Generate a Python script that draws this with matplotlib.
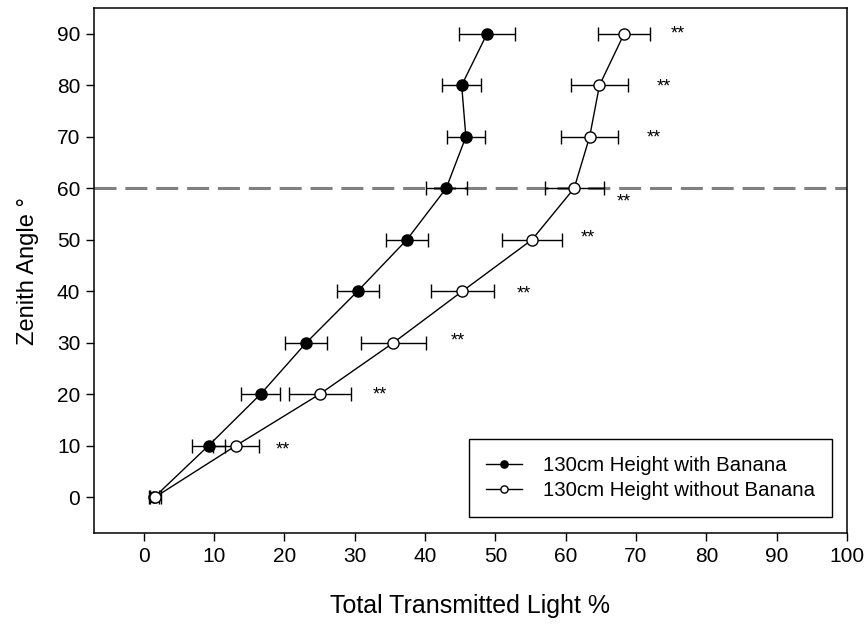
import matplotlib
matplotlib.use("Agg")
import matplotlib.pyplot as plt

plt.rcParams['font.family'] = ['Liberation Sans', 'DejaVu Sans']

# zenith angle (deg)
angles = [0, 10, 20, 30, 40, 50, 60, 70, 80, 90]

# 130cm height with banana (filled)
with_mean = [1.5, 9.2, 16.6, 23.1, 30.4, 37.4, 43.0, 45.8, 45.2, 48.8]
with_err = [0.6, 2.4, 2.8, 3.0, 3.0, 3.0, 2.9, 2.7, 2.8, 4.0]

# 130cm height without banana (open)
without_mean = [1.6, 13.1, 25.0, 35.5, 45.3, 55.2, 61.2, 63.4, 64.8, 68.3]
without_err = [0.85, 3.3, 4.4, 4.6, 4.5, 4.3, 4.2, 4.1, 4.0, 3.7]

# significance marks (text positions)
sig_x = [19.7, 33.6, 44.6, 54.0, 63.2, 68.2, 72.5, 74.0, 75.9]
sig_y = [9.8, 20.6, 31.0, 40.1, 51.0, 58.1, 70.5, 80.4, 90.7]

fig = plt.figure(figsize=(8.66, 6.25), dpi=100)
ax = fig.add_axes([0.1085, 0.147, 0.8695, 0.840])

# reference line at 60 degrees
ax.axhline(60, color='#808080', lw=2.2, dashes=(7.2, 2.9), zorder=1)

ax.errorbar(with_mean, angles, xerr=with_err, fmt='none', ecolor='black',
            elinewidth=1.0, capsize=4.7, capthick=1.0, zorder=2)
ax.errorbar(without_mean, angles, xerr=without_err, fmt='none', ecolor='black',
            elinewidth=1.0, capsize=4.7, capthick=1.0, zorder=2)

ax.plot(with_mean, angles, '-o', color='black', lw=1.0, ms=8,
        mfc='black', mec='black', label='130cm Height with Banana', zorder=3)
ax.plot(without_mean, angles, '-o', color='black', lw=1.0, ms=8,
        mfc='white', mec='black', mew=1.0, label='130cm Height without Banana', zorder=4)

# asterisk glyph sits high in the text box, so nudge down a bit
for x, y in zip(sig_x, sig_y):
    ax.text(x, y - 0.7, '**', fontsize=13, ha='center', va='center')

ax.set_xlim(-7.1, 100)
ax.set_ylim(-7, 95)
ax.set_xticks(range(0, 101, 10))
ax.set_yticks(range(0, 91, 10))

ax.tick_params(direction='out', length=5.8, width=1.0, labelsize=15, pad=4)
for s in ax.spines.values():
    s.set_linewidth(1.1)

ax.set_xlabel('Total Transmitted Light %', fontsize=18, labelpad=20)
ax.set_ylabel('Zenith Angle °', fontsize=17, labelpad=13)

leg = ax.legend(loc='lower right', bbox_to_anchor=(0.98, 0.03), borderaxespad=0,
                fontsize=14.7, markerscale=0.65, handlelength=1.75,
                handletextpad=1.0, labelspacing=0.28, borderpad=0.85,
                fancybox=False, edgecolor='black', framealpha=1)
leg.get_frame().set_linewidth(1.0)

fig.savefig('out.png', dpi=100)
